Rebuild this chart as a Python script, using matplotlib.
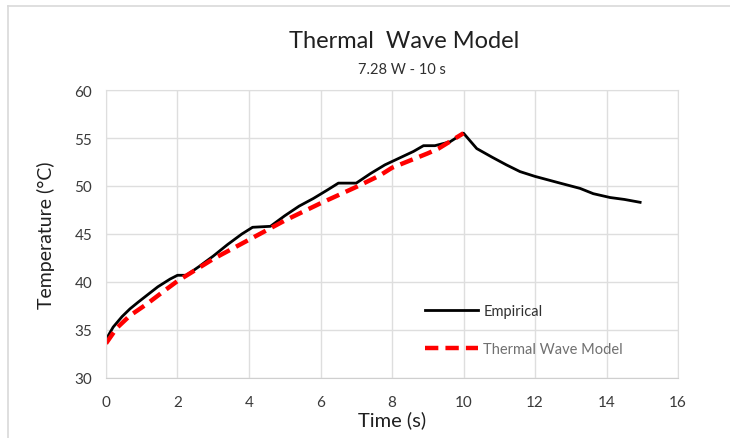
import matplotlib.pyplot as plt
from matplotlib.lines import Line2D

plt.rcParams['font.family'] = ['Lato', 'DejaVu Sans']

emp_t = [0.0, 0.2, 0.45, 0.67, 0.9, 1.14, 1.45, 1.79, 2.0, 2.25, 2.6, 3.0, 3.4, 3.8, 4.1, 4.6,
         5.0, 5.4, 5.8, 6.2, 6.5, 7.0, 7.4, 7.8, 8.2, 8.6, 8.88, 9.2, 9.62, 10.0,
         10.37, 10.8, 11.2, 11.58, 12.0, 12.7, 13.26, 13.63, 14.1, 14.5, 14.94]
emp_T = [34.0, 35.3, 36.4, 37.2, 37.9, 38.6, 39.5, 40.3, 40.7, 40.7, 41.6, 42.7, 43.9, 45.0, 45.7, 45.8,
         46.9, 47.9, 48.7, 49.6, 50.3, 50.3, 51.3, 52.2, 52.9, 53.6, 54.2, 54.2, 54.6, 55.5,
         53.9, 53.0, 52.2, 51.5, 51.0, 50.3, 49.75, 49.2, 48.8, 48.6, 48.3]

# thermal wave model
mod_t = [0.0, 0.3, 0.67, 1.14, 1.6, 2.0, 2.35, 3.0, 4.0, 5.0, 6.0, 7.0, 7.66, 8.0, 9.0, 9.3, 10.0]
mod_T = [33.6, 35.2, 36.5, 37.7, 39.0, 40.1, 40.9, 42.4, 44.4, 46.4, 48.2, 49.9, 51.1, 51.9, 53.4, 53.9, 55.5]

xticks = list(range(0, 17, 2))
yticks = list(range(30, 61, 5))

fig = plt.figure(figsize=(7.3, 4.39), dpi=100)
ax = fig.add_axes([0.1452, 0.1367, 0.7836, 0.656])

ax.plot(emp_t, emp_T, color='black', lw=2.0, label='Empirical')
ax.plot(mod_t, mod_T, color='#ff0000', lw=3.2, ls=(0, (3, 1.6)), label='Thermal Wave Model')

ax.set_xlim(0, 16)
ax.set_ylim(30, 60)
ax.set_xticks(xticks)
ax.set_yticks(yticks)
ax.grid(True, color='#dedede', lw=1.0)
ax.set_axisbelow(True)
for s in ax.spines.values():
    s.set_color('#dedede')
ax.spines['bottom'].set_color('#cfcfcf')
ax.tick_params(length=0, labelsize=11, colors='#3a3a3a')
ax.tick_params(axis='x', pad=12)
ax.tick_params(axis='y', pad=10)

ax.set_xlabel('Time (s)', fontsize=14.5, color='#202020', labelpad=1)
ax.set_ylabel('Temperature (°C)', fontsize=14, color='#202020', labelpad=14)

fig.text(0.553, 0.905, 'Thermal  Wave Model', ha='center', va='center', fontsize=17, color='#202020')
fig.text(0.55, 0.84, '7.28 W - 10 s', ha='center', va='center', fontsize=10.5, color='#303030')

leg = ax.legend(loc='lower left', bbox_to_anchor=(0.535, 0.03), frameon=False,
                fontsize=10.5, handlelength=3.6, labelspacing=1.65, handletextpad=0.4)
leg.get_texts()[0].set_color('#303030')
leg.get_texts()[1].set_color('#707070')

# outer chart border (left and top edges visible)
fig.add_artist(Line2D([0.011, 0.011], [0.0, 0.984], color='#d9d9d9', lw=1.2, transform=fig.transFigure))
fig.add_artist(Line2D([0.011, 1.0], [0.984, 0.984], color='#d9d9d9', lw=1.2, transform=fig.transFigure))

fig.savefig('out.png', dpi=100)
